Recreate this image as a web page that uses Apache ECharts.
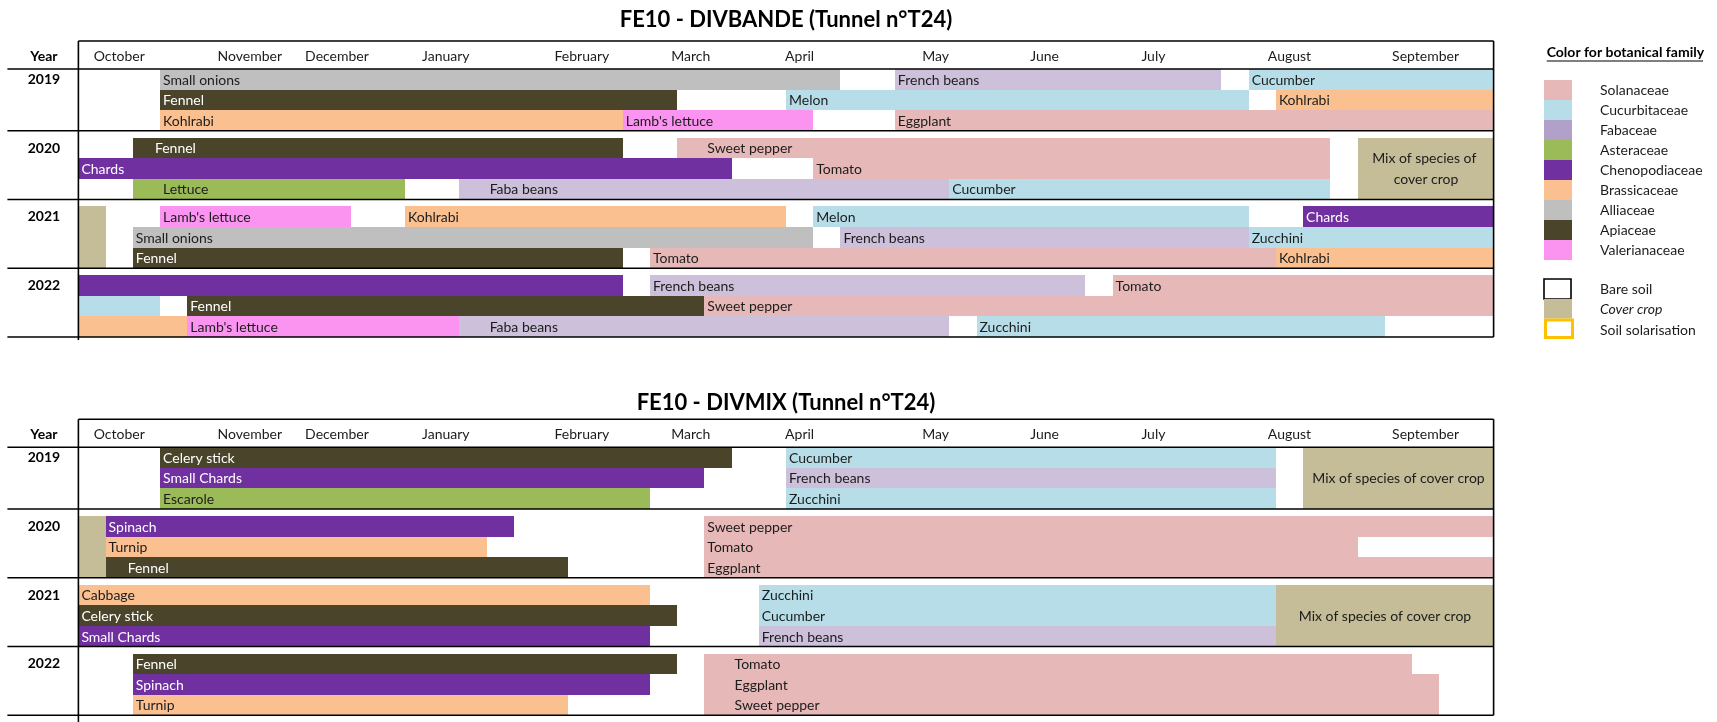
<!DOCTYPE html>
<html>
<head>
<meta charset="utf-8">
<script src="https://cdn.jsdelivr.net/npm/echarts/dist/echarts.min.js"></script>
<style>html,body{margin:0;padding:0;background:#fff}#c{width:1717px;height:722px}</style>
</head>
<body>
<div id="c"></div>
<script>
// ---------------- DATA ----------------
const months = ['October','November','December','January','February','March','April','May','June','July','August','September'];
// month label centres, in weeks from the start of October (52 weekly columns)
const monthWeeks = [1.5, 6.3, 9.5, 13.5, 18.5, 22.5, 26.5, 31.5, 35.5, 39.5, 44.5, 49.5];
const years = ['2019','2020','2021','2022'];
const chartTitles = ['FE10 - DIVBANDE (Tunnel n°T24)', 'FE10 - DIVMIX (Tunnel n°T24)'];

const familyKeys   = ['Sol','Cuc','Fab','Ast','Che','Bra','All','Api','Val'];
const familyNames  = ['Solanaceae','Cucurbitaceae','Fabaceae','Asteraceae','Chenopodiaceae','Brassicaceae','Alliaceae','Apiaceae','Valerianaceae'];
const familyColors = ['#E6B8B7','#B7DEE8','#B1A0C7','#9BBB59','#7030A0','#FAC090','#BFBFBF','#4A452A','#FA94F0'];
const soilNames = ['Bare soil','Cover crop','Soil solarisation'];
const coverColor = '#C4BD97';
const solarColor = '#FFC000';

// [yearIndex, row, rowSpan, startWeek, endWeek, family, label, labelWeek]
const divbandeBars = [
  [0,0,1, 3,28,'All','Small onions'],
  [0,0,1,30,42,'Fab','French beans'],
  [0,0,1,43,52,'Cuc','Cucumber'],
  [0,1,1, 3,22,'Api','Fennel'],
  [0,1,1,26,43,'Cuc','Melon'],
  [0,1,1,44,52,'Bra','Kohlrabi'],
  [0,2,1, 3,20,'Bra','Kohlrabi'],
  [0,2,1,20,27,'Val',"Lamb's lettuce"],
  [0,2,1,30,52,'Sol','Eggplant'],
  [1,0,1, 2,20,'Api','Fennel',2.7],
  [1,0,1,22,46,'Sol','Sweet pepper',23],
  [1,0,3,47,52,'Cov','Mix of species of cover crop'],
  [1,1,1, 0,24,'Che','Chards'],
  [1,1,1,27,46,'Sol','Tomato'],
  [1,2,1, 2,12,'Ast','Lettuce',3],
  [1,2,1,14,32,'Fab','Faba beans',15],
  [1,2,1,32,46,'Cuc','Cucumber'],
  [2,0,3, 0, 1,'Cov',''],
  [2,0,1, 3,10,'Val',"Lamb's lettuce"],
  [2,0,1,12,26,'Bra','Kohlrabi'],
  [2,0,1,27,43,'Cuc','Melon'],
  [2,0,1,45,52,'Che','Chards'],
  [2,1,1, 2,27,'All','Small onions'],
  [2,1,1,28,43,'Fab','French beans'],
  [2,1,1,43,52,'Cuc','Zucchini'],
  [2,2,1, 2,20,'Api','Fennel'],
  [2,2,1,21,44,'Sol','Tomato'],
  [2,2,1,44,52,'Bra','Kohlrabi'],
  [3,0,1, 0,20,'Che',''],
  [3,0,1,21,37,'Fab','French beans'],
  [3,0,1,38,52,'Sol','Tomato'],
  [3,1,1, 0, 3,'Cuc',''],
  [3,1,1, 4,23,'Api','Fennel'],
  [3,1,1,23,52,'Sol','Sweet pepper'],
  [3,2,1, 0, 4,'Bra',''],
  [3,2,1, 4,14,'Val',"Lamb's lettuce"],
  [3,2,1,14,32,'Fab','Faba beans',15],
  [3,2,1,33,48,'Cuc','Zucchini']
];

const divmixBars = [
  [0,0,1, 3,24,'Api','Celery stick'],
  [0,0,1,26,44,'Cuc','Cucumber'],
  [0,0,3,45,52,'Cov','Mix of species of cover crop'],
  [0,1,1, 3,23,'Che','Small Chards'],
  [0,1,1,26,44,'Fab','French beans'],
  [0,2,1, 3,21,'Ast','Escarole'],
  [0,2,1,26,44,'Cuc','Zucchini'],
  [1,0,3, 0, 1,'Cov',''],
  [1,0,1, 1,16,'Che','Spinach'],
  [1,0,1,23,52,'Sol','Sweet pepper'],
  [1,1,1, 1,15,'Bra','Turnip'],
  [1,1,1,23,47,'Sol','Tomato'],
  [1,2,1, 1,18,'Api','Fennel',1.7],
  [1,2,1,23,52,'Sol','Eggplant'],
  [2,0,1, 0,21,'Bra','Cabbage'],
  [2,0,1,25,44,'Cuc','Zucchini'],
  [2,0,3,44,52,'Cov','Mix of species of cover crop'],
  [2,1,1, 0,22,'Api','Celery stick'],
  [2,1,1,25,44,'Cuc','Cucumber'],
  [2,2,1, 0,21,'Che','Small Chards'],
  [2,2,1,25,44,'Fab','French beans'],
  [3,0,1, 2,22,'Api','Fennel'],
  [3,0,1,23,49,'Sol','Tomato',24],
  [3,1,1, 2,21,'Che','Spinach'],
  [3,1,1,23,50,'Sol','Eggplant',24],
  [3,2,1, 2,18,'Bra','Turnip'],
  [3,2,1,23,50,'Sol','Sweet pepper',24]
];

// ---------------- LAYOUT ----------------
const FONT = 'Lato, "Open Sans", sans-serif';
const GAP = 0.34, HEADER = 1.36;
const blockTop = [0, 3 + GAP, 6 + 2 * GAP, 9 + 3 * GAP];
const sepLines = [0, 3, 6 + GAP, 9 + 2 * GAP, 12 + 3 * GAP];
const YMAX = 12 + 3 * GAP;
const TXT = '#1c1c1c';

function fill(fam) {
  if (fam === 'Cov') return coverColor;
  if (fam === 'Fab') return '#CCC0DA';
  return familyColors[familyKeys.indexOf(fam)];
}
function toData(bars) {
  return bars.map(b => [b[3], b[4], blockTop[b[0]] + b[1], blockTop[b[0]] + b[1] + b[2], b[7] != null ? b[7] : b[3]]);
}
function makeBarRender(bars) {
  return function (params, api) {
    const b = bars[params.dataIndex];
    const fam = b[5], label = b[6];
    const p0 = api.coord([api.value(0), api.value(2)]).map(Math.round);
    const p1 = api.coord([api.value(1), api.value(3)]).map(Math.round);
    const w = p1[0] - p0[0], h = p1[1] - p0[1];
    const children = [{ type: 'rect', shape: { x: p0[0], y: p0[1], width: w, height: h }, style: { fill: fill(fam) } }];
    if (label) {
      if (fam === 'Cov') {
        children.push({ type: 'text', style: {
          text: label, x: p0[0] + w / 2, y: p0[1] + h / 2, width: w - 10, overflow: 'break',
          textAlign: 'center', textVerticalAlign: 'middle', lineHeight: 21,
          font: '14px ' + FONT, fill: TXT } });
      } else {
        const lx = api.coord([api.value(4), api.value(2)])[0];
        const dark = fam === 'Api' || fam === 'Che';
        children.push({ type: 'text', style: {
          text: label, x: lx + 3, y: p0[1] + h / 2 + 0.5, textAlign: 'left', textVerticalAlign: 'middle',
          font: '14px ' + FONT, fill: dark ? '#ffffff' : TXT } });
      }
    }
    return { type: 'group', children };
  };
}
function makeFrameRender(ext) {
  return function (params, api) {
    const cs = params.coordSys;
    const L = cs.x, R = cs.x + cs.width, XL = L - 71;
    const Y = v => api.coord([0, v])[1];
    const ln = { stroke: '#000', lineWidth: 1.6 };
    const ch = [];
    ch.push({ type: 'line', shape: { x1: L, y1: Y(-HEADER), x2: R, y2: Y(-HEADER) }, style: ln });
    sepLines.forEach(v => ch.push({ type: 'line', shape: { x1: XL, y1: Y(v), x2: R, y2: Y(v) }, style: ln }));
    ch.push({ type: 'line', shape: { x1: L, y1: Y(-HEADER), x2: L, y2: Y(YMAX) + ext }, style: ln });
    ch.push({ type: 'line', shape: { x1: R, y1: Y(-HEADER), x2: R, y2: Y(YMAX) }, style: ln });
    const hy = Y(-HEADER / 2) + 1;
    ch.push({ type: 'text', style: { text: 'Year', x: L - 34.5, y: hy, textAlign: 'center', textVerticalAlign: 'middle', font: 'bold 14px ' + FONT, fill: '#000' } });
    months.forEach((m, i) => {
      const p = api.coord([monthWeeks[i], -HEADER / 2]);
      ch.push({ type: 'text', style: { text: m, x: p[0], y: hy, textAlign: 'center', textVerticalAlign: 'middle', font: '14px ' + FONT, fill: TXT } });
    });
    years.forEach((yv, i) => {
      ch.push({ type: 'text', style: { text: yv, x: L - 34.5, y: Y(blockTop[i] + 0.5), textAlign: 'center', textVerticalAlign: 'middle', font: 'bold 14px ' + FONT, fill: '#000' } });
    });
    return { type: 'group', children: ch };
  };
}

// ---------------- LEGEND (graphic) ----------------
const LX = 1544, LTX = 1600;
const legendGraphic = [
  { type: 'text', x: 1546.7, y: 52, style: { text: 'Color for botanical family', font: 'bold 14px ' + FONT, fill: '#000', textVerticalAlign: 'middle' } },
  { type: 'line', shape: { x1: 1546.7, y1: 61, x2: 1703, y2: 61 }, style: { stroke: '#000', lineWidth: 1.2 } }
];
familyNames.forEach((f, i) => {
  legendGraphic.push({ type: 'rect', shape: { x: LX, y: 80 + i * 20, width: 28, height: 20 }, style: { fill: familyColors[i] } });
  legendGraphic.push({ type: 'text', x: LTX, y: 90.5 + i * 20, style: { text: f, font: '14px ' + FONT, fill: TXT, textVerticalAlign: 'middle' } });
});
legendGraphic.push({ type: 'rect', shape: { x: LX, y: 279, width: 27, height: 20 }, style: { fill: '#fff', stroke: '#000', lineWidth: 1.6 } });
legendGraphic.push({ type: 'rect', shape: { x: LX, y: 299, width: 28, height: 19.5 }, style: { fill: coverColor } });
legendGraphic.push({ type: 'rect', shape: { x: LX + 1.5, y: 320, width: 27, height: 17.5 }, style: { fill: '#fff', stroke: solarColor, lineWidth: 3 } });
soilNames.forEach((s, i) => {
  legendGraphic.push({ type: 'text', x: LTX, y: 289 + i * 20.5, style: { text: s, font: (i === 1 ? 'italic ' : '') + '14px ' + FONT, fill: TXT, textVerticalAlign: 'middle' } });
});
legendGraphic.push({ type: 'text', x: 786, y: 20, style: { text: chartTitles[0], font: 'bold 22px ' + FONT, fill: '#000', textAlign: 'center', textVerticalAlign: 'middle' } });
legendGraphic.push({ type: 'text', x: 786, y: 403, style: { text: chartTitles[1], font: 'bold 22px ' + FONT, fill: '#000', textAlign: 'center', textVerticalAlign: 'middle' } });

// ---------------- CHART ----------------
const chart = echarts.init(document.getElementById('c'));
const grids = [
  { left: 78.4, width: 1415.2, top: 41, height: 296 },
  { left: 78.4, width: 1415.2, top: 419.3, height: 296 }
];
const option = {
  animation: false,
  backgroundColor: '#fff',
  grid: grids,
  xAxis: [0, 1].map(i => ({ gridIndex: i, type: 'value', min: 0, max: 52, show: false })),
  yAxis: [0, 1].map(i => ({ gridIndex: i, type: 'value', min: -HEADER, max: YMAX, inverse: true, show: false })),
  graphic: legendGraphic,
  series: [
    { type: 'custom', xAxisIndex: 0, yAxisIndex: 0, data: toData(divbandeBars), renderItem: makeBarRender(divbandeBars), encode: { x: [0, 1], y: [2, 3] }, z: 1, silent: true },
    { type: 'custom', xAxisIndex: 1, yAxisIndex: 1, data: toData(divmixBars), renderItem: makeBarRender(divmixBars), encode: { x: [0, 1], y: [2, 3] }, z: 1, silent: true },
    { type: 'custom', xAxisIndex: 0, yAxisIndex: 0, data: [[0, 0]], renderItem: makeFrameRender(3), z: 5, silent: true },
    { type: 'custom', xAxisIndex: 1, yAxisIndex: 1, data: [[0, 0]], renderItem: makeFrameRender(8), z: 5, silent: true }
  ]
};
chart.setOption(option);
</script>
</body>
</html>
